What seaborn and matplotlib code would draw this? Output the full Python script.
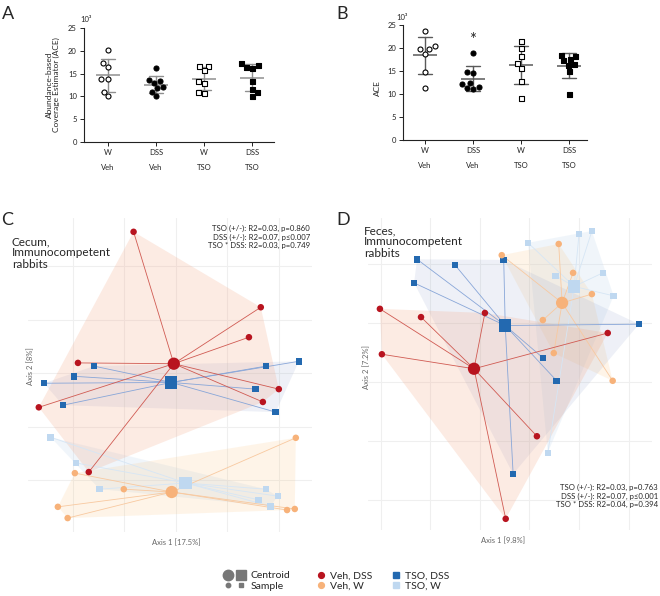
import numpy as np
import pandas as pd
import matplotlib
matplotlib.use("Agg")
import matplotlib.pyplot as plt
import seaborn as sns
from matplotlib.lines import Line2D
from matplotlib.legend_handler import HandlerTuple

sns.set_style("white")
plt.rcParams['font.family'] = ['Lato', 'DejaVu Sans']

# 1. ACE richness (x10^3), panels A (cecum) and B (feces)
groups = ["W\nVeh", "DSS\nVeh", "W\nTSO", "DSS\nTSO"]
a_w_veh = [20.3, 17.4, 16.5, 13.9, 13.9, 11.0, 10.0]
a_dss_veh = [16.2, 13.7, 13.3, 13.0, 12.0, 11.8, 11.0, 10.0]
a_w_tso = [16.8, 16.7, 15.8, 13.3, 13.0, 11.0, 10.7]
a_dss_tso = [17.4, 16.9, 16.5, 16.2, 13.3, 11.6, 10.9, 10.0]
b_w_veh = [23.8, 20.5, 19.8, 19.7, 18.8, 14.7, 11.4]
b_dss_veh = [19.0, 14.7, 14.6, 12.4, 12.2, 11.6, 11.3, 11.2]
b_w_tso = [21.5, 19.9, 18.2, 16.7, 15.7, 12.9, 9.2]
b_dss_tso = [18.5, 18.2, 17.6, 17.3, 16.6, 16.3, 15.0, 10.1]
star_value = 21.8

# 2. PCoA coordinates (Axis 1, Axis 2)
cecum_veh_dss_x = [-0.082, 0.165, 0.142, -0.190, 0.200, 0.169, -0.266, -0.169]
cecum_veh_dss_y = [0.264, 0.123, 0.067, 0.019, -0.030, -0.054, -0.064, -0.185]
cecum_tso_dss_x = [-0.159, -0.198, -0.256, 0.175, 0.239, 0.155, -0.219, 0.194]
cecum_tso_dss_y = [0.013, -0.006, -0.019, 0.013, 0.022, -0.030, -0.060, -0.073]
cecum_veh_w_x = [0.233, -0.196, -0.101, -0.229, -0.210, 0.216, 0.231]
cecum_veh_w_y = [-0.121, -0.187, -0.217, -0.250, -0.271, -0.256, -0.254]
cecum_tso_w_x = [-0.243, -0.194, -0.148, 0.175, 0.198, 0.161, 0.184]
cecum_tso_w_y = [-0.120, -0.168, -0.217, -0.217, -0.230, -0.237, -0.249]

feces_veh_dss_x = [-0.202, -0.119, 0.010, -0.198, 0.258, 0.115, 0.052]
feces_veh_dss_y = [0.124, 0.110, 0.117, 0.047, 0.083, -0.092, -0.232]
feces_tso_dss_x = [-0.127, -0.050, 0.048, -0.133, 0.321, 0.127, 0.155, 0.067]
feces_tso_dss_y = [0.208, 0.198, 0.207, 0.168, 0.098, 0.041, 0.002, -0.156]
feces_veh_w_x = [0.044, 0.159, 0.188, 0.226, 0.127, 0.149, 0.268]
feces_veh_w_y = [0.215, 0.234, 0.185, 0.149, 0.105, 0.049, 0.002]
feces_tso_w_x = [0.097, 0.200, 0.226, 0.153, 0.248, 0.270, 0.137]
feces_tso_w_y = [0.236, 0.251, 0.256, 0.180, 0.185, 0.146, -0.120]

cecum_stats = "TSO (+/-): R2=0.03, p=0.860\nDSS (+/-): R2=0.07, p\u22640.007\nTSO * DSS: R2=0.03, p=0.749"
feces_stats = "TSO (+/-): R2=0.03, p=0.763\nDSS (+/-): R2=0.07, p\u22640.001\nTSO * DSS: R2=0.04, p=0.394"

# styles
pcoa_groups = ["TSO, W", "Veh, W", "TSO, DSS", "Veh, DSS"]
pt_color = {"Veh, DSS": "#b8141f", "Veh, W": "#f7b27a", "TSO, DSS": "#2369b0", "TSO, W": "#bfd8f0"}
line_color = {"Veh, DSS": "#d05a52", "Veh, W": "#f8c9a0", "TSO, DSS": "#88a6d8", "TSO, W": "#d6e6f5"}
hull_color = {"Veh, DSS": ("#f4a582", 0.22), "Veh, W": ("#fdb863", 0.14),
              "TSO, DSS": ("#8da0cb", 0.15), "TSO, W": ("#c6dbef", 0.25)}
shape = {"Veh, DSS": "o", "Veh, W": "o", "TSO, DSS": "s", "TSO, W": "s"}


def ace_frame(lists):
    rows = []
    for g, vals in zip(groups, lists):
        rows += [{"group": g, "ace": v} for v in vals]
    return pd.DataFrame(rows)


def pcoa_frame(d):
    rows = []
    for g, (xs, ys) in d.items():
        rows += [{"group": g, "ax1": x, "ax2": y} for x, y in zip(xs, ys)]
    return pd.DataFrame(rows)


def convex_hull(pts):
    pts = sorted(map(tuple, pts))
    def cross(o, a, b):
        return (a[0] - o[0]) * (b[1] - o[1]) - (a[1] - o[1]) * (b[0] - o[0])
    lower, upper = [], []
    for p in pts:
        while len(lower) >= 2 and cross(lower[-2], lower[-1], p) <= 0:
            lower.pop()
        lower.append(p)
    for p in reversed(pts):
        while len(upper) >= 2 and cross(upper[-2], upper[-1], p) <= 0:
            upper.pop()
        upper.append(p)
    return np.array(lower[:-1] + upper[:-1])


dfA = ace_frame([a_w_veh, a_dss_veh, a_w_tso, a_dss_tso])
dfB = ace_frame([b_w_veh, b_dss_veh, b_w_tso, b_dss_tso])
dfC = pcoa_frame({"Veh, DSS": (cecum_veh_dss_x, cecum_veh_dss_y),
                  "TSO, DSS": (cecum_tso_dss_x, cecum_tso_dss_y),
                  "Veh, W": (cecum_veh_w_x, cecum_veh_w_y),
                  "TSO, W": (cecum_tso_w_x, cecum_tso_w_y)})
dfD = pcoa_frame({"Veh, DSS": (feces_veh_dss_x, feces_veh_dss_y),
                  "TSO, DSS": (feces_tso_dss_x, feces_tso_dss_y),
                  "Veh, W": (feces_veh_w_x, feces_veh_w_y),
                  "TSO, W": (feces_tso_w_x, feces_tso_w_y)})

fig = plt.figure(figsize=(6.6, 5.96), dpi=100)
axA = fig.add_axes([0.127, 0.7617, 0.288, 0.191])
axB = fig.add_axes([0.6106, 0.765, 0.279, 0.193])
axC = fig.add_axes([0.0424, 0.1074, 0.430, 0.527])
axD = fig.add_axes([0.5576, 0.1107, 0.430, 0.5235])


def px(x, y):
    return x / 660, 1 - y / 596


# 3. Dot plots A and B
dot_marker = ["o", "o", "s", "s"]
dot_face = ["white", "black", "white", "black"]


def dot_panel(ax, df, err_color, xlim):
    for g, m, fc in zip(groups, dot_marker, dot_face):
        sns.swarmplot(data=df[df.group == g], x="group", y="ace", order=groups,
                      marker=m, color=fc, edgecolor="black", linewidth=0.8,
                      size=3.6, ax=ax)
    sns.pointplot(data=df, x="group", y="ace", order=groups, errorbar="sd",
                  capsize=0.3, color=err_color, marker="_", markersize=17,
                  markeredgewidth=1.1, linestyle="none",
                  err_kws={"linewidth": 1.0}, ax=ax)
    ax.set_ylim(0, 25)
    ax.set_yticks(range(0, 26, 5))
    ax.set_xlim(*xlim)
    ax.set_xlabel("")
    ax.set_ylabel("")
    for s in ["top", "right"]:
        ax.spines[s].set_visible(False)
    for s in ["left", "bottom"]:
        ax.spines[s].set_linewidth(0.8)
        ax.spines[s].set_color("#222222")
    ax.tick_params(axis="both", labelsize=5.5, length=3, width=0.7, pad=2,
                   left=True, bottom=True, colors="#222222")
    for lbl in ax.get_xticklabels():
        lbl.set_linespacing(2.3)
        lbl.set_verticalalignment("top")


dot_panel(axA, dfA, "#8f8f8f", (-0.5, 3.45))
dot_panel(axB, dfB, "#5a5a5a", (-0.46, 3.38))
axB.text(1, star_value, "*", ha="center", va="center", fontsize=12)

fig.text(*px(53, 85), "Abundance-based\nCoverage Estimator (ACE)", rotation=90,
         ha="center", va="center", fontsize=6, linespacing=1.1)
fig.text(*px(377, 88), "ACE", rotation=90, ha="center", va="center", fontsize=6)
fig.text(*px(86, 20), "10\u00b3", ha="center", va="center", fontsize=5.5)
fig.text(*px(402, 18), "10\u00b3", ha="center", va="center", fontsize=5.5)


# 4. PCoA panels C and D
def pcoa_panel(ax, df, xlim, ylim, xgrid, ygrid):
    cent = df.groupby("group")[["ax1", "ax2"]].mean()
    for g in pcoa_groups:
        sub = df[df.group == g]
        h = convex_hull(sub[["ax1", "ax2"]].values)
        c, a = hull_color[g]
        ax.fill(h[:, 0], h[:, 1], color=c, alpha=a, lw=0, zorder=1)
    for g in pcoa_groups:
        sub = df[df.group == g]
        cx, cy = cent.loc[g]
        for x, y in zip(sub.ax1, sub.ax2):
            ax.plot([cx, x], [cy, y], color=line_color[g], lw=0.6, zorder=2)
    sns.scatterplot(data=df, x="ax1", y="ax2", hue="group", style="group",
                    palette=pt_color, markers=shape, s=22, linewidth=0,
                    legend=False, zorder=3, ax=ax)
    cdf = cent.reset_index()
    sns.scatterplot(data=cdf, x="ax1", y="ax2", hue="group", style="group",
                    palette=pt_color, markers=shape, s=78, linewidth=0,
                    legend=False, zorder=4, ax=ax)
    ax.set_xlim(*xlim)
    ax.set_ylim(*ylim)
    ax.set_xticks(xgrid)
    ax.set_yticks(ygrid)
    ax.set_xticklabels([])
    ax.set_yticklabels([])
    ax.tick_params(length=0)
    ax.grid(True, color="#efefef", lw=0.8)
    ax.set_axisbelow(True)
    for s in ax.spines.values():
        s.set_visible(False)
    ax.set_xlabel("")
    ax.set_ylabel("")


pcoa_panel(axC, dfC, (-0.287, 0.264), (-0.297, 0.290),
           [-0.2, -0.1, 0, 0.1, 0.2], [-0.2, -0.1, 0, 0.1, 0.2])
pcoa_panel(axD, dfD, (-0.226, 0.347), (-0.251, 0.278),
           [-0.2, -0.1, 0, 0.1, 0.2, 0.3], [-0.2, -0.1, 0, 0.1, 0.2])

fig.text(*px(12, 236), "Cecum,\nImmunocompetent\nrabbits", ha="left", va="top",
         fontsize=8.5, linespacing=1.05)
fig.text(*px(364, 225), "Feces,\nImmunocompetent\nrabbits", ha="left", va="top",
         fontsize=8.5, linespacing=1.05)
fig.text(*px(310, 225), cecum_stats, ha="right", va="top", fontsize=5.6,
         linespacing=1.25)
fig.text(*px(658, 484), feces_stats, ha="right", va="top", fontsize=5.6,
         linespacing=1.25)
fig.text(*px(176, 543), "Axis 1 [17.5%]", ha="center", va="center",
         fontsize=5.5, color="#666666")
fig.text(*px(503, 541), "Axis 1 [9.8%]", ha="center", va="center",
         fontsize=5.5, color="#666666")
fig.text(*px(31, 366), "Axis 2 [8%]", rotation=90, ha="center", va="center",
         fontsize=5.5, color="#666666")
fig.text(*px(367, 367), "Axis 2 [7.2%]", rotation=90, ha="center", va="center",
         fontsize=5.5, color="#666666")

# panel letters
for letter, (x, y) in zip("ABCD", [(8, 14), (342, 14), (7, 220), (343, 220)]):
    fig.text(*px(x, y), letter, ha="center", va="center", fontsize=13)

# 5. Legends
grey = "#777777"
big_c = Line2D([], [], ls="none", marker="o", ms=7.5, color=grey)
big_s = Line2D([], [], ls="none", marker="s", ms=7.5, color=grey)
sm_c = Line2D([], [], ls="none", marker="o", ms=3.2, color=grey)
sm_s = Line2D([], [], ls="none", marker="s", ms=3.2, color=grey)
fig.legend([(big_c, big_s), (sm_c, sm_s)], ["Centroid", "Sample"],
           loc="center left", bbox_to_anchor=px(219, 581), frameon=False,
           fontsize=7.5, handlelength=2.0, handleheight=0.7,
           handletextpad=0.5, labelspacing=0.1, borderpad=0,
           handler_map={tuple: HandlerTuple(ndivide=None, pad=0.6)})
grp_handles = [Line2D([], [], ls="none", marker=shape[g], ms=4.2, color=pt_color[g])
               for g in ["Veh, DSS", "Veh, W", "TSO, DSS", "TSO, W"]]
fig.legend(grp_handles, ["Veh, DSS", "Veh, W", "TSO, DSS", "TSO, W"],
           loc="center left", bbox_to_anchor=px(312, 581), ncol=2,
           frameon=False, fontsize=7.5, handlelength=0.7, handleheight=0.7,
           handletextpad=0.5, labelspacing=0.1, columnspacing=2.0, borderpad=0)

fig.savefig("out.png", dpi=100)
